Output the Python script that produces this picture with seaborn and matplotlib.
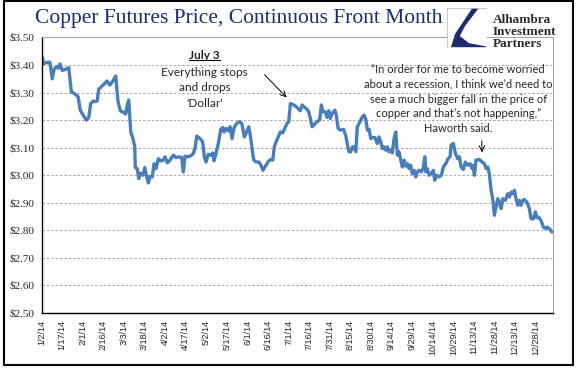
import pandas as pd
import numpy as np
import matplotlib
matplotlib.use("Agg")
import matplotlib.pyplot as plt
from matplotlib.patches import Rectangle, Polygon
from matplotlib.lines import Line2D
import seaborn as sns

# =============================
# Data
# =============================
start_date = "2014-01-02"

# days after 2 Jan 2014
days = [
    0.0, 1.7, 4.6, 6.0, 7.7, 9.0, 10.6, 11.9, 13.3, 15.0, 17.2, 19.7, 21.6, 24.1, 26.5,
    28.1, 30.6, 32.5, 34.3, 35.7, 37.4, 39.1, 40.5, 41.5, 43.4, 45.9, 47.6, 49.6, 52.0,
    53.9, 55.6, 57.3, 60.0, 61.2, 62.4, 63.4, 64.9, 66.5, 67.8, 68.2, 69.7, 70.7, 71.9,
    73.8, 75.1, 76.5, 77.7, 78.9, 80.6, 81.9, 83.3, 85.0, 86.7, 88.6, 89.9, 91.5, 93.5,
    95.9, 97.9, 100.3, 102.0, 103.2, 104.4, 106.9, 109.3, 110.5, 111.7, 113.0, 115.4,
    117.3, 118.5, 119.8, 121.4, 123.2, 124.6, 125.6, 127.0, 128.7, 130.5, 131.9, 132.9,
    134.3, 136.0, 137.2, 138.7, 140.2, 142.1, 144.0, 145.8, 147.7, 148.9, 150.9, 152.0,
    153.3, 154.5, 156.2, 158.2, 159.8, 161.3, 163.0, 164.9, 166.6, 168.4, 169.5, 170.8,
    172.2, 173.9, 175.7, 177.1, 178.8, 180.0, 181.2, 183.7, 186.1, 188.5, 189.7, 191.7,
    193.4, 194.6, 195.8, 197.0, 198.3, 199.4, 201.4, 202.6, 203.8, 205.0, 206.7, 207.9,
    209.2, 210.3, 211.6, 213.6, 214.7, 216.0, 217.6, 220.1, 221.8, 223.3, 224.0, 225.2,
    226.4, 227.6, 228.9, 230.0, 231.3, 232.5, 233.7, 234.9, 236.2, 237.3, 238.6, 239.8,
    241.0, 242.7, 244.6, 245.8, 247.1, 248.3, 249.5, 250.7, 251.9, 253.1, 254.4, 255.5,
    256.8, 258.0, 259.2, 260.4, 261.7, 262.8, 264.1, 265.3, 266.5, 267.7, 268.9, 270.1,
    271.4, 272.6, 273.8, 275.0, 276.7, 278.1, 279.2, 279.9, 281.0, 282.3, 284.0, 285.4,
    286.4, 287.9, 289.6, 291.3, 292.7, 294.5, 296.1, 297.6, 298.3, 300.0, 301.5, 303.2,
    304.4, 305.6, 307.3, 308.7, 310.5, 312.2, 313.6, 314.6, 315.3, 316.5, 318.9, 320.9,
    322.6, 323.8, 325.1, 326.2, 327.5, 328.7, 329.9, 331.1, 332.4, 333.5, 334.8, 336.0,
    337.9, 339.7, 340.8, 342.1, 343.3, 344.5, 345.7, 346.9, 348.1, 349.3, 350.6, 351.7,
    353.5, 355.4, 356.6, 358.3, 359.8, 360.8, 362.2, 363.9, 365.6, 367.1, 368.3, 370.0,
    371.9,
]

prices = [
    3.433, 3.406, 3.41, 3.41, 3.35, 3.384, 3.394, 3.388, 3.404, 3.38, 3.384, 3.39, 3.303,
    3.295, 3.285, 3.236, 3.215, 3.20, 3.21, 3.26, 3.269, 3.267, 3.27, 3.312, 3.321, 3.333,
    3.342, 3.327, 3.343, 3.36, 3.267, 3.234, 3.227, 3.222, 3.255, 3.273, 3.157, 3.133,
    3.103, 3.028, 3.024, 2.988, 3.008, 3.0, 3.028, 2.994, 2.972, 2.996, 2.994, 3.042,
    3.024, 3.06, 3.052, 3.055, 3.067, 3.045, 3.055, 3.073, 3.064, 3.067, 3.064, 3.012,
    3.069, 3.067, 3.073, 3.079, 3.097, 3.142, 3.133, 3.121, 3.067, 3.048, 3.076, 3.073,
    3.081, 3.052, 3.079, 3.115, 3.166, 3.173, 3.157, 3.17, 3.161, 3.176, 3.133, 3.173,
    3.188, 3.194, 3.188, 3.139, 3.152, 3.176, 3.145, 3.097, 3.055, 3.048, 3.048, 3.036,
    3.018, 3.033, 3.048, 3.057, 3.055, 3.103, 3.121, 3.137, 3.157, 3.154, 3.17, 3.188,
    3.194, 3.26, 3.255, 3.246, 3.234, 3.255, 3.246, 3.239, 3.23, 3.206, 3.176, 3.182,
    3.188, 3.197, 3.2, 3.255, 3.23, 3.23, 3.21, 3.234, 3.206, 3.224, 3.236, 3.218, 3.17,
    3.164, 3.166, 3.139, 3.097, 3.085, 3.085, 3.103, 3.103, 3.085, 3.176, 3.188, 3.2,
    3.212, 3.218, 3.203, 3.164, 3.166, 3.133, 3.137, 3.137, 3.115, 3.139, 3.121, 3.097,
    3.103, 3.091, 3.103, 3.085, 3.091, 3.081, 3.133, 3.157, 3.073, 3.085, 3.055, 3.03,
    3.055, 3.033, 3.042, 3.024, 3.036, 3.006, 3.018, 2.994, 3.012, 3.018, 3.012, 3.028,
    3.067, 3.012, 3.024, 3.0, 3.006, 3.018, 2.982, 3.0, 2.994, 3.0, 3.03, 3.042, 3.06,
    3.067, 3.109, 3.115, 3.079, 3.06, 3.067, 3.03, 3.021, 3.048, 3.036, 3.042, 3.024,
    3.036, 3.0, 3.055, 3.057, 3.048, 3.042, 3.024, 3.03, 3.006, 2.945, 2.915, 2.855,
    2.885, 2.915, 2.903, 2.879, 2.915, 2.909, 2.933, 2.921, 2.939, 2.933, 2.945, 2.915,
    2.891, 2.909, 2.891, 2.909, 2.912, 2.903, 2.879, 2.842, 2.842, 2.867, 2.846, 2.848,
    2.836, 2.812, 2.806, 2.812, 2.806, 2.794,
]

tick_start = "2014-01-02"
tick_end = "2014-12-28"
axis_days = 372.4

title = "Copper Futures Price, Continuous Front Month"
note_date = "July 3"
note_lines = ["Everything stops", "and drops", "'Dollar'"]
quote_lines = [
    "\u201cIn order for me to become worried",
    "about a recession, I think we\u2019d need to",
    "see a much bigger fall in the price of",
    "copper and that\u2019s not happening,\u201d",
    "Haworth said.",
]
logo_lines = ["Alhambra", "Investment", "Partners"]

# =============================
# Figure
# =============================
sns.set_style("white")
plt.rcParams["font.family"] = ["Liberation Serif", "DejaVu Serif"]

df = pd.DataFrame({
    "date": pd.Timestamp(start_date) + pd.to_timedelta(days, unit="D"),
    "price": prices,
})

fig = plt.figure(figsize=(5.77, 3.86), dpi=100)
ax = fig.add_axes([0.0723, 0.189, 0.8856, 0.714])

sns.lineplot(data=df, x="date", y="price", ax=ax, color="#4A7EBB", linewidth=2.4)

# axes
ax.set_ylim(2.5, 3.5)
yticks = np.round(np.arange(2.5, 3.51, 0.1), 2)
ax.set_yticks(yticks)
ax.set_yticklabels([f"${v:.2f}" for v in yticks], fontsize=8, family=["Liberation Serif"])

tick_dates = pd.date_range(tick_start, tick_end, freq="15D")
ax.set_xticks(tick_dates)
ax.set_xticklabels([f"{d.month}/{d.day}/{d.strftime('%y')}" for d in tick_dates],
                   rotation=90, fontsize=6.5, family=["Liberation Sans"])
ax.set_xlim(pd.Timestamp(start_date), pd.Timestamp(start_date) + pd.Timedelta(days=axis_days))
ax.minorticks_off()

ax.tick_params(axis="both", direction="out", length=3.5, width=0.8, color="black", pad=1.5)
ax.set_xlabel("")
ax.set_ylabel("")

ax.grid(axis="y", color="#A6A6A6", linestyle=(0, (2.5, 2)), linewidth=0.7)
ax.grid(axis="x", visible=False)
for side in ["left", "bottom"]:
    ax.spines[side].set_color("black")
    ax.spines[side].set_linewidth(1.0)
for side in ["top", "right"]:
    ax.spines[side].set_color("#A6A6A6")
    ax.spines[side].set_linewidth(0.8)

# title
fig.text(0.413, 0.952, title, ha="center", va="center", fontsize=15.5,
         color="#1E2B6E", family=["Liberation Serif"])

# annotation: July 3
t = ax.text(0.319, 0.936, note_date, transform=ax.transAxes, ha="center", va="center",
            fontsize=8.5, fontweight="bold", family=["Lato", "DejaVu Sans"])
for i, line in enumerate(note_lines):
    ax.text(0.319, 0.874 - i * 0.056, line, transform=ax.transAxes, ha="center",
            va="center", fontsize=8.5, family=["Lato", "DejaVu Sans"])

ax.annotate("", xy=(pd.Timestamp(start_date) + pd.Timedelta(days=179.9), 3.275),
            xytext=(pd.Timestamp(start_date) + pd.Timedelta(days=161), 3.372),
            arrowprops=dict(arrowstyle="->", color="black", lw=0.7))

# annotation: quote
for i, (line, yy) in enumerate(zip(quote_lines, [0.885, 0.830, 0.776, 0.725, 0.671])):
    ax.text(0.815, yy, line, transform=ax.transAxes, ha="center", va="center",
            fontsize=8, family=["Lato", "DejaVu Sans"])

ax.annotate("", xy=(pd.Timestamp(start_date) + pd.Timedelta(days=321), 3.073),
            xytext=(pd.Timestamp(start_date) + pd.Timedelta(days=320.6), 3.135),
            arrowprops=dict(arrowstyle="->", color="black", lw=0.7))

# underline "July 3"
fig.canvas.draw()
bb = t.get_window_extent().transformed(fig.transFigure.inverted())
fig.add_artist(Line2D([bb.x0, bb.x1], [bb.y0 + 0.002, bb.y0 + 0.002],
                      transform=fig.transFigure, color="black", lw=0.8))

# logo
lax = fig.add_axes([447 / 577, 1 - 48 / 386, 40 / 577, 40 / 386])
lax.set_xlim(0, 1)
lax.set_ylim(0, 1)
lax.axis("off")
lax.add_patch(Rectangle((0, 0), 1, 1, facecolor="white", edgecolor="#C8C8C8", lw=0.8))
lax.add_patch(Polygon([(0.62, 0.98), (0.78, 0.98), (0.45, 0.55), (0.32, 0.3),
                       (0.55, 0.12), (0.98, 0.04), (0.98, 0.02), (0.1, 0.02),
                       (0.2, 0.35)], closed=True, facecolor="#1E2B6E", edgecolor="none"))
for i, line in enumerate(logo_lines):
    fig.text(493 / 577, 1 - (20 + i * 12) / 386, line, ha="left", va="center",
             fontsize=9.5, fontweight="bold", color="#2B2B2B", family=["Liberation Serif"])

# outer frame
fig.add_artist(Rectangle((4 / 577, 21 / 386), 569 / 577, 364 / 386, transform=fig.transFigure,
                         fill=False, edgecolor="black", lw=1.5))

fig.savefig("out.png", dpi=100)
